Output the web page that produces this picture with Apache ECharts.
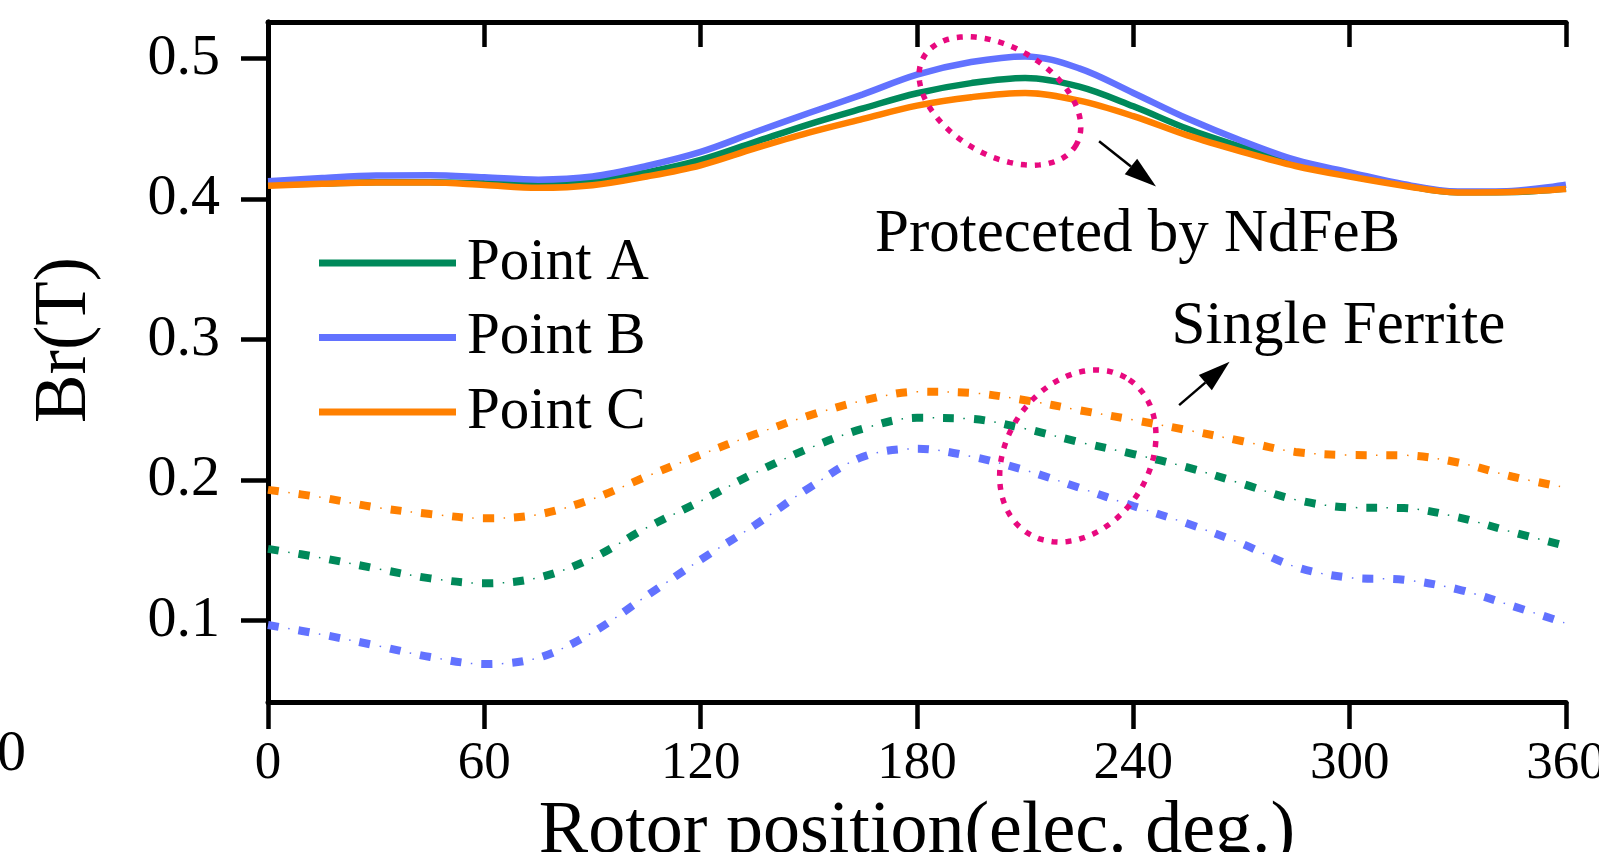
<!DOCTYPE html>
<html>
<head>
<meta charset="utf-8">
<script src="https://cdn.jsdelivr.net/npm/echarts@6/dist/echarts.min.js"></script>
<style>
  html, body { margin: 0; padding: 0; background: #fff; }
  #chart { width: 1599px; height: 852px; }
</style>
</head>
<body>
<div id="chart"></div>
<script>
// rotor position (elec. deg.)
const angles = [0, 15, 30, 45, 60, 75, 90, 105, 120, 135, 150, 165, 180,
                195, 210, 225, 240, 255, 270, 285, 300, 315, 330, 345, 360];

// Br (T), protected by NdFeB (solid)
const ndfebA = [0.4100, 0.4110, 0.4120, 0.4120, 0.4112, 0.4109, 0.4130, 0.4190, 0.4278, 0.4405, 0.4532, 0.4645, 0.4753,
                0.4825, 0.4862, 0.4800, 0.4660, 0.4500, 0.4370, 0.4255, 0.4180, 0.4100, 0.4048, 0.4050, 0.4075];
const ndfebB = [0.4127, 0.4150, 0.4168, 0.4170, 0.4155, 0.4138, 0.4160, 0.4235, 0.4335, 0.4475, 0.4612, 0.4745, 0.4885,
                0.4975, 0.5015, 0.4930, 0.4755, 0.4573, 0.4415, 0.4278, 0.4190, 0.4105, 0.4053, 0.4058, 0.4102];
const ndfebC = [0.4095, 0.4108, 0.4118, 0.4118, 0.4100, 0.4080, 0.4098, 0.4160, 0.4240, 0.4360, 0.4472, 0.4570, 0.4665,
                0.4725, 0.4755, 0.4700, 0.4590, 0.4453, 0.4338, 0.4235, 0.4160, 0.4095, 0.4047, 0.4050, 0.4071];

// Br (T), single ferrite (dotted)
const ferriteA = [0.1510, 0.1445, 0.1370, 0.1300, 0.1265, 0.1305, 0.1445, 0.1660, 0.1850, 0.2050, 0.2225, 0.2365, 0.2443,
                  0.2435, 0.2365, 0.2270, 0.2185, 0.2090, 0.1975, 0.1860, 0.1805, 0.1800, 0.1735, 0.1630, 0.1530];
const ferriteB = [0.0968, 0.0900, 0.0822, 0.0740, 0.0690, 0.0735, 0.0915, 0.1175, 0.1433, 0.1678, 0.1943, 0.2165, 0.2222,
                  0.2168, 0.2070, 0.1945, 0.1815, 0.1690, 0.1548, 0.1382, 0.1305, 0.1290, 0.1222, 0.1105, 0.0980];
const ferriteC = [0.1930, 0.1875, 0.1805, 0.1758, 0.1727, 0.1755, 0.1865, 0.2025, 0.2180, 0.2325, 0.2458, 0.2565, 0.2628,
                  0.2620, 0.2568, 0.2497, 0.2428, 0.2355, 0.2278, 0.2200, 0.2178, 0.2176, 0.2125, 0.2025, 0.1945];

const yTicks = [0.1, 0.2, 0.3, 0.4, 0.5];
const legendNames = ['Point A', 'Point B', 'Point C'];

// annotations, in data coordinates
const loopNdfeb = [203, 0.4698];
const loopFerrite = [224.6, 0.2171];
const arrowNdfeb = [[230.5, 0.4411], [246.3, 0.4090]];
const arrowFerrite = [[252.7, 0.2533], [266.7, 0.2842]];
const labelNdfeb = [241.2, 0.3745];
const labelFerrite = [296.9, 0.3089];

const GREEN = '#00895a';
const BLUE = '#6272ff';
const ORANGE = '#ff8000';
const PINK = '#e8097f';
const FONT = '"Liberation Serif", "Times New Roman", serif';

const chart = echarts.init(document.getElementById('chart'));

const pairs = (ys) => angles.map((a, i) => [a, ys[i]]);

function solidSeries(name, ys, color) {
    return {
        name, type: 'line', data: pairs(ys), smooth: 0.35, symbol: 'none', z: 4,
        itemStyle: { color },
        lineStyle: { color, width: 6.5 }
    };
}

function dottedSeries(name, ys, color) {
    return [
        {
            name: name + ' ferrite', type: 'line', data: pairs(ys), smooth: 0.35, symbol: 'none', z: 3,
            itemStyle: { color },
            lineStyle: { color, width: 8, type: [11, 20], cap: 'butt' }
        },
        {
            name: name + ' ferrite dots', type: 'line', data: pairs(ys), smooth: 0.35, symbol: 'none', z: 3,
            itemStyle: { color },
            lineStyle: { color, width: 1.5, type: [1.5, 29.5], dashOffset: 10.5, cap: 'butt' }
        }
    ];
}

const black = { color: '#000', width: 5 };

chart.setOption({
    animation: false,
    backgroundColor: '#fff',
    grid: { left: 268, right: 33, top: 22, bottom: 150, outerBoundsMode: 'none', containLabel: false },
    legend: {
        data: legendNames,
        orient: 'vertical',
        left: 314, top: 228,
        icon: 'rect',
        itemWidth: 137, itemHeight: 7,
        itemGap: 14.5,
        textStyle: { fontFamily: FONT, fontSize: 59, color: '#000', lineHeight: 60, padding: [0, 0, 0, 6] }
    },
    xAxis: [
        {
            type: 'value', position: 'bottom', min: 0, max: 360, interval: 60,
            name: 'Rotor position(elec. deg.)', nameLocation: 'middle', nameGap: 82,
            nameTextStyle: { fontFamily: FONT, fontSize: 74, color: '#000' },
            axisLine: { lineStyle: black },
            axisTick: { inside: false, length: 27, lineStyle: { color: '#000', width: 4.5 } },
            axisLabel: { margin: 36, fontFamily: FONT, fontSize: 53, color: '#000' },
            splitLine: { show: false }
        },
        {
            type: 'value', position: 'top', min: 0, max: 360, interval: 60,
            axisLine: { lineStyle: black },
            axisTick: { inside: true, length: 25, lineStyle: { color: '#000', width: 4.5 } },
            axisLabel: { show: false },
            splitLine: { show: false }
        }
    ],
    yAxis: [
        {
            type: 'value', position: 'left', min: 0.042, max: 0.526,
            axisLine: { lineStyle: black },
            axisTick: { inside: false, length: 27, customValues: yTicks, lineStyle: { color: '#000', width: 4.5 } },
            axisLabel: {
                margin: 48, customValues: yTicks, fontFamily: FONT, fontSize: 58, color: '#000',
                formatter: (v) => v.toFixed(1)
            },
            splitLine: { show: false }
        },
        {
            type: 'value', position: 'right', min: 0.042, max: 0.526,
            axisLine: { lineStyle: black },
            axisTick: { inside: true, length: 25, customValues: yTicks, lineStyle: { color: '#000', width: 4.5 } },
            axisLabel: { show: false },
            splitLine: { show: false }
        }
    ],
    series: [
        solidSeries('Point A', ndfebA, GREEN),
        solidSeries('Point B', ndfebB, BLUE),
        solidSeries('Point C', ndfebC, ORANGE),
        ...dottedSeries('Point A', ferriteA, GREEN),
        ...dottedSeries('Point B', ferriteB, BLUE),
        ...dottedSeries('Point C', ferriteC, ORANGE)
    ]
});

const px = (p) => chart.convertToPixel({ seriesIndex: 0 }, p);

function loop(center, rx, ry, deg) {
    const [cx, cy] = px(center);
    const t = deg * Math.PI / 180;
    const points = [];
    for (let i = 0; i < 96; i++) {
        const a = i / 96 * Math.PI * 2;
        const x = rx * Math.cos(a);
        const y = ry * Math.sin(a);
        points.push([cx + x * Math.cos(t) - y * Math.sin(t), cy + x * Math.sin(t) + y * Math.cos(t)]);
    }
    return {
        type: 'polygon', z: 10,
        shape: { points },
        style: { fill: 'none', stroke: PINK, lineWidth: 5.5, lineDash: [6, 8] }
    };
}

function arrow(from, to) {
    const [x1, y1] = px(from);
    const [x2, y2] = px(to);
    const len = Math.hypot(x2 - x1, y2 - y1);
    const ux = (x2 - x1) / len, uy = (y2 - y1) / len;
    const headLen = 32, headHalf = 10;
    const bx = x2 - ux * headLen, by = y2 - uy * headLen;
    return [
        { type: 'line', z: 10, shape: { x1, y1, x2: bx, y2: by }, style: { stroke: '#000', lineWidth: 2.5 } },
        {
            type: 'polygon', z: 10,
            shape: { points: [[x2, y2], [bx - uy * headHalf, by + ux * headHalf], [bx + uy * headHalf, by - ux * headHalf]] },
            style: { fill: '#000' }
        }
    ];
}

function label(text, at) {
    const [x, y] = px(at);
    return {
        type: 'text', z: 10, x, y,
        style: { text, fill: '#000', fontFamily: FONT, fontSize: 61, align: 'center', verticalAlign: 'middle' }
    };
}

chart.setOption({
    graphic: [
        loop(loopNdfeb, 88, 54, 30),
        loop(loopFerrite, 92, 71, -56),
        ...arrow(arrowNdfeb[0], arrowNdfeb[1]),
        ...arrow(arrowFerrite[0], arrowFerrite[1]),
        label('Proteceted by NdFeB', labelNdfeb),
        label('Single Ferrite', labelFerrite),
        {
            type: 'text', x: 66, y: 340, rotation: Math.PI / 2,
            style: { text: 'Br(T)', fill: '#000', fontFamily: FONT, fontSize: 73, align: 'center', verticalAlign: 'middle' }
        },
        {
            type: 'text', x: -3, y: 755,
            style: { text: '0', fill: '#000', fontFamily: FONT, fontSize: 58, align: 'left', verticalAlign: 'middle' }
        }
    ]
});
</script>
</body>
</html>
